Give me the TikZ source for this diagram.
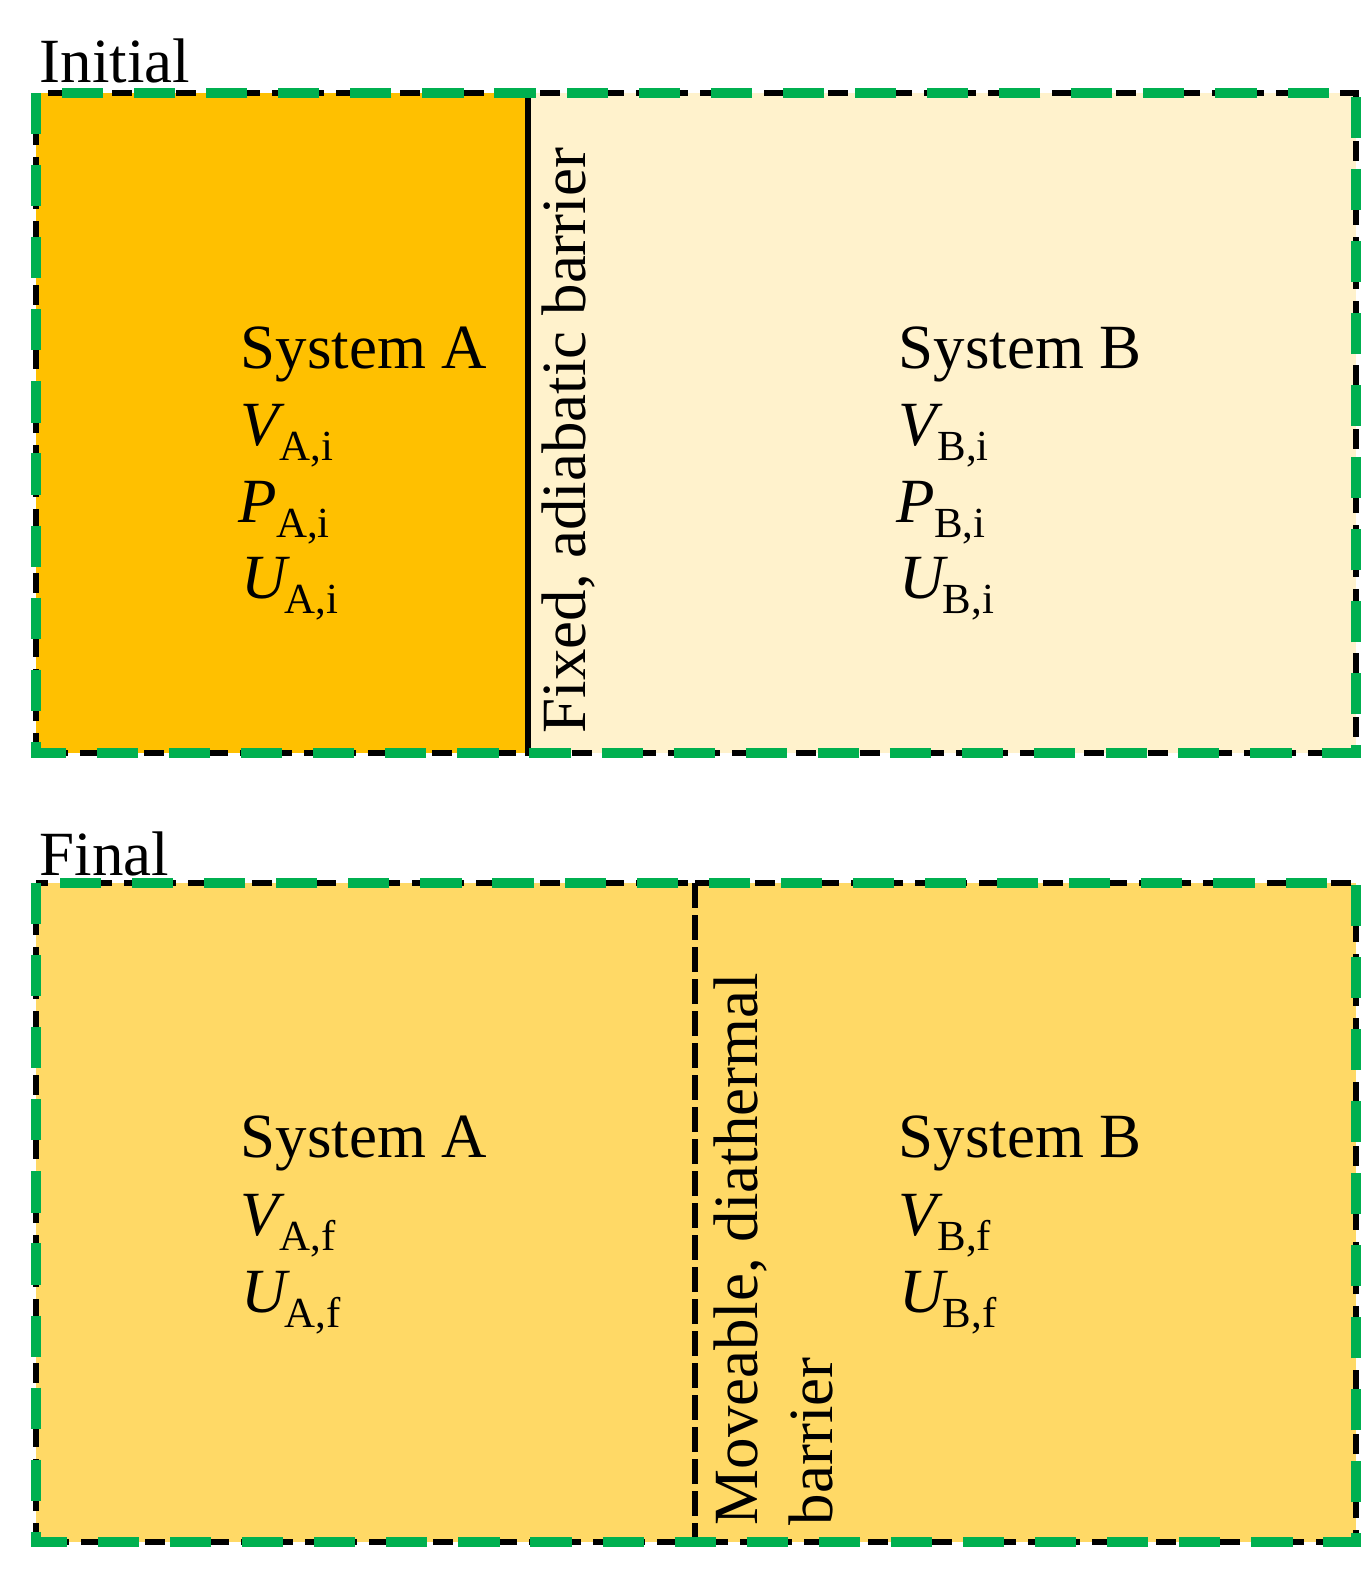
\documentclass[tikz,border=0pt]{standalone}
\usepackage{fontspec}
\setmainfont{Liberation Serif}
\definecolor{sysAfill}{HTML}{FFC000}
\definecolor{sysBfill}{HTML}{FFF2CC}
\definecolor{finalfill}{HTML}{FFD966}
\definecolor{boundgreen}{HTML}{00B050}
\newcommand*{\StateVar}[3][-1.6pt]{% #1 = kern, #2 = symbol, #3 = subscript
  \textit{#2}\kern#1\raisebox{-0.24em}{\fontsize{12.2}{12.2}\selectfont #3}}

\begin{document}
\begin{tikzpicture}[x=0.01cm,y=-0.01cm,
    every node/.style={inner sep=0pt,font=\fontsize{17.9}{21.3}\selectfont},
    wall/.style={draw=black,line width=1.45pt,dash pattern=on 5.7pt off 3.4pt},
    boundary/.style={draw=boundgreen,line width=2.85pt,dash pattern=on 11.7pt off 8.8pt},
    solidwall/.style={draw=black,line width=1.45pt}]
    \useasboundingbox (0,0) rectangle (1361,1569);
    % initial state
    \fill[sysAfill] (36,93) rectangle (528,753);
    \fill[sysBfill] (528,93) rectangle (1356,753);
    \draw[wall] (36,93) rectangle (528,753);
    \draw[wall] (528,93) rectangle (1356,753);
    \draw[solidwall] (528,93) -- (528,753);
    \draw[boundary] (36,93) rectangle (1356,753);
    \node[anchor=base west] (initlbl) at (39,82) {Initial};
    \node[rotate=90,anchor=north west] (fixlbl) at (541,734) {Fixed, adiabatic barrier};
    \foreach \sys/\xpos in {A/240,B/898} {
        \node[anchor=base west] (sys\sys i) at (\xpos,368) {System \sys};
        \node[anchor=base west] (V\sys i) at (\xpos,445) {\StateVar{V}{\sys,i}};
        \node[anchor=base west] (P\sys i) at (\xpos-2,522) {\StateVar[-0.3pt]{P}{\sys,i}};
        \node[anchor=base west] (U\sys i) at (\xpos+1,598) {\StateVar{U}{\sys,i}};
    }
    % final state
    \fill[finalfill] (36,883) rectangle (1356,1542);
    \draw[wall] (36,883) rectangle (695,1542);
    \draw[wall] (695,883) rectangle (1356,1542);
    \draw[boundary] (36,883) rectangle (1356,1542);
    \node[anchor=base west] (finlbl) at (39,875) {Final};
    \node[rotate=90,anchor=north west,align=left] (movlbl) at (713,1526) {Moveable, diathermal\\barrier};
    \foreach \sys/\xpos in {A/240,B/898} {
        \node[anchor=base west] (sys\sys f) at (\xpos,1157) {System \sys};
        \node[anchor=base west] (V\sys f) at (\xpos,1235) {\StateVar{V}{\sys,f}};
        \node[anchor=base west] (U\sys f) at (\xpos+1,1312) {\StateVar{U}{\sys,f}};
    }
\end{tikzpicture}
\end{document}
